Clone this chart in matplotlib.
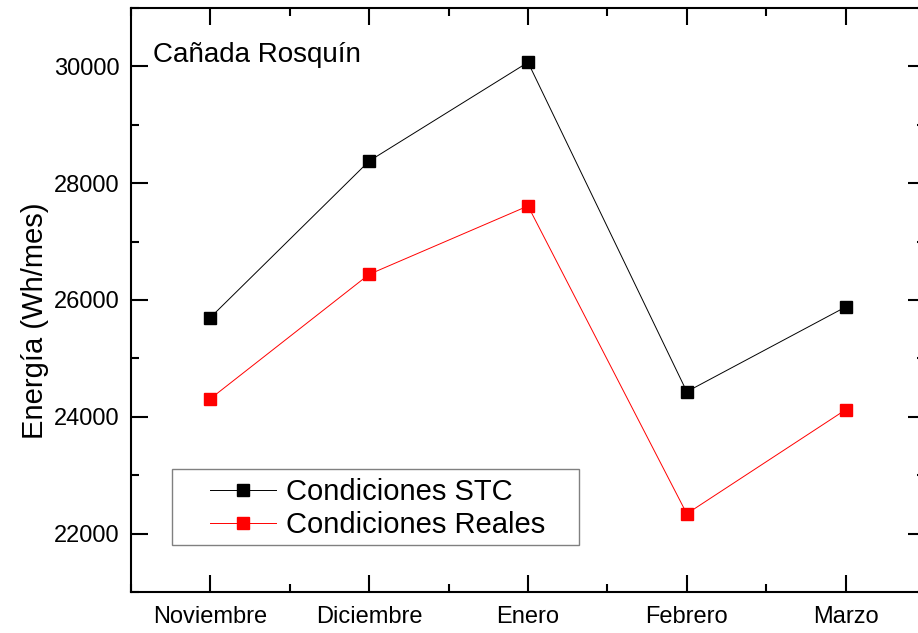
import numpy as np
import matplotlib.pyplot as plt
from matplotlib.ticker import MultipleLocator
from matplotlib.patches import Rectangle
from matplotlib.legend_handler import HandlerLine2D

plt.rcParams['font.family'] = ['Liberation Sans', 'DejaVu Sans']

meses = ["Noviembre", "Diciembre", "Enero", "Febrero", "Marzo"]
stc = [25700, 28380, 30070, 24430, 25880]
reales = [24310, 26440, 27610, 22340, 24120]

x = np.arange(1, len(meses) + 1)

fig = plt.figure(figsize=(9.18, 6.33), dpi=100)
ax = fig.add_axes([131 / 918, 41 / 633, 794 / 918, 584 / 633])

l1, = ax.plot(x, stc, color="black", lw=0.7, marker="s", ms=9, mfc="black", mec="black",
              label="Condiciones STC")
l2, = ax.plot(x, reales, color="red", lw=0.7, marker="s", ms=9, mfc="red", mec="red",
              label="Condiciones Reales")

ax.set_xlim(0.5, 5.5)
ax.set_ylim(21000, 31000)
ax.set_xticks(x)
ax.set_xticklabels(meses)
ax.xaxis.set_minor_locator(MultipleLocator(0.5))
ax.yaxis.set_major_locator(MultipleLocator(2000))
ax.yaxis.set_minor_locator(MultipleLocator(1000))
ax.tick_params(which="both", direction="in", top=True, right=True, width=1.5,
               labelsize=17, pad=8)
ax.tick_params(axis="x", which="both", pad=10)
ax.tick_params(which="major", length=12)
ax.tick_params(which="minor", length=6)
for s in ax.spines.values():
    s.set_linewidth(1.5)

ax.set_ylabel("Energía (Wh/mes)", fontsize=21)
ax.yaxis.set_label_coords(-0.103, 0.464)
ax.text(0.0277, 0.9075, "Cañada Rosquín", transform=ax.transAxes, fontsize=20,
        va="baseline", ha="left")

# legend frame
ax.add_patch(Rectangle((0.0516, 0.0805), 0.5124, 0.1301, transform=ax.transAxes,
                       facecolor="white", edgecolor="gray", lw=1.0, zorder=4))
leg = ax.legend(handles=[l1, l2], loc="center left", bbox_to_anchor=(0.0995, 0.143),
                fontsize=21, handlelength=2.25, handletextpad=0.35, borderpad=0,
                borderaxespad=0, labelspacing=0.17, frameon=False,
                handler_map={l1: HandlerLine2D(), l2: HandlerLine2D()})
leg.set_zorder(5)

fig.savefig("out.png", dpi=100)
